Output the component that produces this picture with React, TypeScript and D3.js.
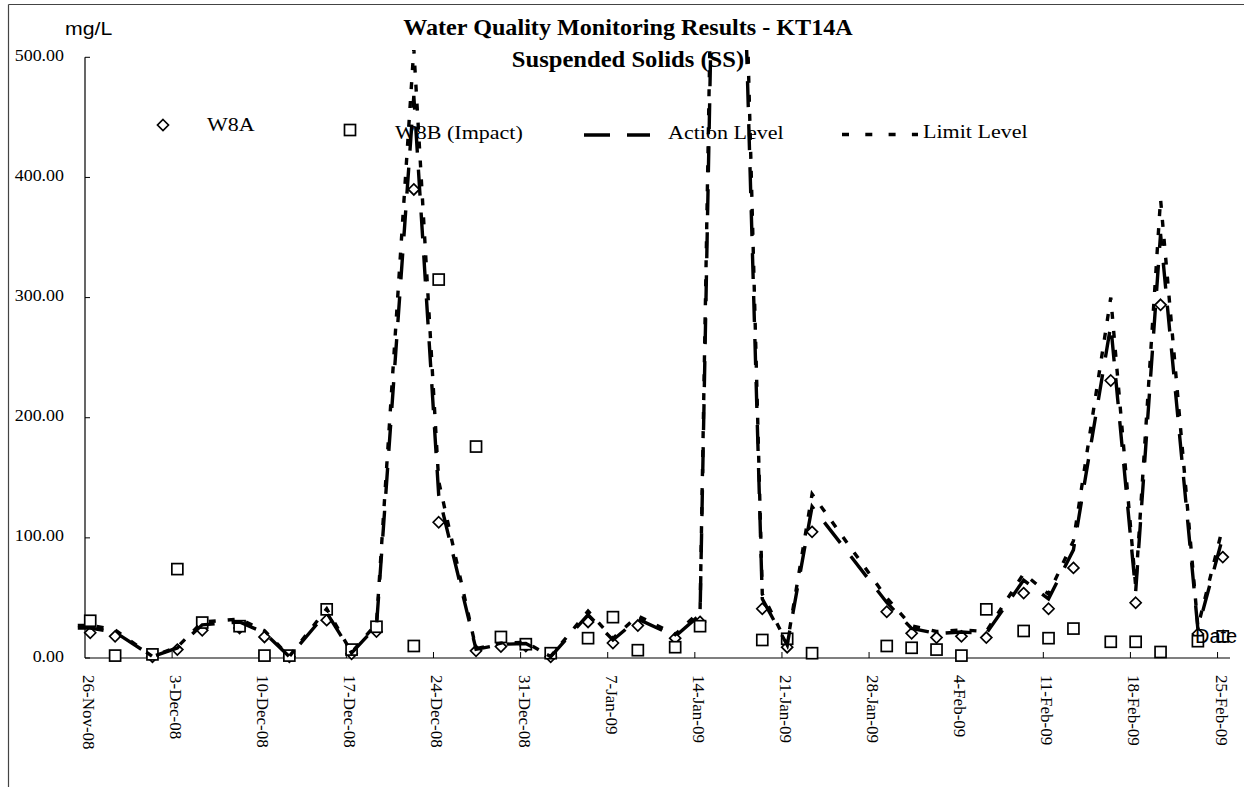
import React, { useEffect, useRef } from 'react';
import * as d3 from 'd3';

// sampling dates (W8A / W8B)
const sampleDates = [
  '2008-11-26', '2008-11-28', '2008-12-01', '2008-12-03', '2008-12-05', '2008-12-08',
  '2008-12-10', '2008-12-12', '2008-12-15', '2008-12-17', '2008-12-19', '2008-12-22',
  '2008-12-24', '2008-12-27', '2008-12-29', '2008-12-31', '2009-01-02', '2009-01-05',
  '2009-01-07', '2009-01-09', '2009-01-12', '2009-01-14', '2009-01-16', '2009-01-19',
  '2009-01-21', '2009-01-23', '2009-01-29', '2009-01-31', '2009-02-02', '2009-02-04',
  '2009-02-06', '2009-02-09', '2009-02-11', '2009-02-13', '2009-02-16', '2009-02-18',
  '2009-02-20', '2009-02-23', '2009-02-25',
];

const w8aValues = [
  21, 18, 1, 7, 23, 25,
  17.5, 1, 31.5, 3.5, 22, 390,
  113, 6, 9.5, 10, 1, 30,
  12.5, 27, 16.5, 30, 950, 41,
  9, 105, 38.5, 20.5, 17, 18,
  17, 54, 41, 75, 231, 46,
  294, 20, 84,
];

const w8bValues: (number | null)[] = [
  31, 2, 3, 74, 29.5, 26.5,
  2, 2, 40.5, 7, 26, 10,
  315, 176, 17.5, 11.5, 4, 16.5,
  34, 6.5, 9, 26.5, null, 15,
  16, 4, 10, 8.5, 7, 2,
  40.5, 22.5, 16.5, 24.5, 13.5, 13.5,
  5, 14, 18,
];

// level lines start one day earlier
const levelDates = ['2008-11-25', ...sampleDates];

const actionValues = [
  25, 25, 21.5, 1.2, 8.4, 27.6, 30,
  21, 1.2, 37.8, 4.2, 26.4, 468,
  135.6, 7.2, 11.4, 12, 1.2, 36,
  15, 32.4, 18, 36, 1140, 49.2,
  10.8, 126, 46.2, 24.6, 20.4, 21.6,
  20.4, 64.8, 49.2, 90, 277, 55.2,
  353, 24, 100.8,
];

const limitValues = [
  27, 27.3, 23.4, 1.3, 9.1, 29.9, 32.5,
  22.8, 1.3, 41, 4.6, 28.6, 507,
  147, 7.8, 12.4, 13, 1.3, 39,
  16.3, 35.1, 19.5, 39, 1235, 53.3,
  11.7, 136.5, 50, 26.7, 22.1, 23.4,
  22.1, 70.2, 53.3, 97.5, 300, 59.8,
  382, 26, 109,
];

const yTicks = [0, 100, 200, 300, 400, 500];

const serif = '"Liberation Serif", "Times New Roman", serif';
const sans = '"Liberation Sans", Arial, sans-serif';

export default function App() {
  const svgRef = useRef<SVGSVGElement>(null);

  useEffect(() => {
    if (!svgRef.current) return;
    const width = 1244;
    const height = 787;
    const svg = d3.select(svgRef.current);
    svg.selectAll('*').remove();

    const parse = d3.utcParse('%Y-%m-%d');
    const start = parse('2008-11-26')!;
    const end = parse('2009-02-26')!;

    const x = d3.scaleUtc().domain([start, end]).range([85, 1230]);
    const y = d3.scaleLinear().domain([0, 500]).range([658, 57.3]);
    const dayW = x(d3.utcDay.offset(start, 1)) - x(start);
    const px = (d: Date) => x(d) + dayW * 0.42; // sampled mid-morning

    const sx = 1.12;

    // frame
    svg.append('line').attr('x1', 8.5).attr('x2', width).attr('y1', 4.5).attr('y2', 4.5)
      .attr('stroke', '#444').attr('stroke-width', 1.2);
    svg.append('line').attr('x1', 8.5).attr('x2', 8.5).attr('y1', 4.5).attr('y2', height)
      .attr('stroke', '#444').attr('stroke-width', 1.2);

    const defs = svg.append('defs');
    defs.append('clipPath').attr('id', 'plotClip')
      .append('rect').attr('x', 0).attr('y', 50).attr('width', width).attr('height', height - 50);

    // axes
    svg.append('line').attr('x1', 85).attr('x2', 85).attr('y1', y(500)).attr('y2', y(0))
      .attr('stroke', '#000').attr('stroke-width', 1.2);
    svg.append('line').attr('x1', 85).attr('x2', 1230).attr('y1', y(0)).attr('y2', y(0))
      .attr('stroke', '#000').attr('stroke-width', 1.2);

    yTicks.forEach(t => {
      svg.append('line').attr('x1', 85).attr('x2', 90).attr('y1', y(t)).attr('y2', y(t))
        .attr('stroke', '#000').attr('stroke-width', 1);
      svg.append('text')
        .attr('transform', `translate(64,${y(t) + 3.5}) scale(${sx},1)`)
        .attr('text-anchor', 'end')
        .attr('font-family', serif).attr('font-size', 16)
        .text(t.toFixed(2));
    });

    const xTicks = d3.range(0, 14).map(i => d3.utcDay.offset(start, i * 7));
    const fmt = d3.utcFormat('%-d-%b-%y');
    xTicks.forEach(t => {
      if (+t !== +start) {
        svg.append('line').attr('x1', x(t)).attr('x2', x(t)).attr('y1', y(0)).attr('y2', y(0) - 6)
          .attr('stroke', '#000').attr('stroke-width', 1);
      }
      svg.append('text')
        .attr('transform', `translate(${x(t) - 2},675) rotate(90)`)
        .attr('font-family', serif).attr('font-size', 17)
        .text(fmt(t));
    });

    // titles
    svg.append('text').attr('transform', `translate(65,35) scale(1.12,1)`)
      .attr('font-family', sans).attr('font-size', 19).text('mg/L');
    svg.append('text').attr('transform', `translate(628,35) scale(1.05,1)`)
      .attr('text-anchor', 'middle').attr('font-family', serif).attr('font-weight', 'bold')
      .attr('font-size', 23).text('Water Quality Monitoring Results - KT14A');
    svg.append('text').attr('transform', `translate(628,67) scale(1.07,1)`)
      .attr('text-anchor', 'middle').attr('font-family', serif).attr('font-weight', 'bold')
      .attr('font-size', 23).text('Suspended Solids (SS)');

    const plot = svg.append('g').attr('clip-path', 'url(#plotClip)');

    const diamond = (cx: number, cy: number, r = 5.5) =>
      `M${cx},${cy - r}L${cx + r},${cy}L${cx},${cy + r}L${cx - r},${cy}Z`;

    // W8A markers
    sampleDates.forEach((ds, i) => {
      const v = w8aValues[i];
      if (v > 500) return;
      plot.append('path').attr('d', diamond(px(parse(ds)!), y(v)))
        .attr('fill', '#fff').attr('stroke', '#000').attr('stroke-width', 1.7);
    });

    // W8B markers
    sampleDates.forEach((ds, i) => {
      const v = w8bValues[i];
      if (v == null || v > 500) return;
      plot.append('rect').attr('x', px(parse(ds)!) - 5.5).attr('y', y(v) - 5.5)
        .attr('width', 11).attr('height', 11)
        .attr('fill', '#fff').attr('stroke', '#000').attr('stroke-width', 1.7);
    });

    const line = d3.line<[Date, number]>().x(d => px(d[0])).y(d => y(d[1]));
    const actionData = levelDates.map((ds, i) => [parse(ds)!, actionValues[i]] as [Date, number]);
    const limitData = levelDates.map((ds, i) => [parse(ds)!, limitValues[i]] as [Date, number]);

    plot.append('path').attr('d', line(actionData)!)
      .attr('fill', 'none').attr('stroke', '#000').attr('stroke-width', 3.4)
      .attr('stroke-dasharray', '26 17');
    plot.append('path').attr('d', line(limitData)!)
      .attr('fill', 'none').attr('stroke', '#000').attr('stroke-width', 3.4)
      .attr('stroke-dasharray', '7 12');

    // legend
    const legendText = (lx: number, ly: number, t: string) =>
      svg.append('text').attr('transform', `translate(${lx},${ly}) scale(1.13,1)`)
        .attr('font-family', serif).attr('font-size', 19.5).text(t);

    svg.append('path').attr('d', diamond(163, 125))
      .attr('fill', '#fff').attr('stroke', '#000').attr('stroke-width', 1.7);
    legendText(207, 131, 'W8A');
    svg.append('rect').attr('x', 344.5).attr('y', 124.5).attr('width', 11).attr('height', 11)
      .attr('fill', '#fff').attr('stroke', '#000').attr('stroke-width', 1.7);
    legendText(395, 139, 'W8B (Impact)');
    svg.append('line').attr('x1', 584).attr('x2', 650).attr('y1', 135).attr('y2', 135)
      .attr('stroke', '#000').attr('stroke-width', 3.4).attr('stroke-dasharray', '26 17');
    legendText(668, 139, 'Action Level');
    svg.append('line').attr('x1', 842).attr('x2', 918).attr('y1', 134.5).attr('y2', 134.5)
      .attr('stroke', '#000').attr('stroke-width', 3.4).attr('stroke-dasharray', '7 16.3');
    legendText(923, 138, 'Limit Level');

    // axis title
    svg.append('text').attr('x', 1195).attr('y', 643)
      .attr('font-family', sans).attr('font-size', 20).text('Date');
  }, []);

  return (
    <svg
      ref={svgRef}
      width={1244}
      height={787}
      style={{ position: 'absolute', left: 0, top: 0, background: '#fff' }}
    />
  );
}
